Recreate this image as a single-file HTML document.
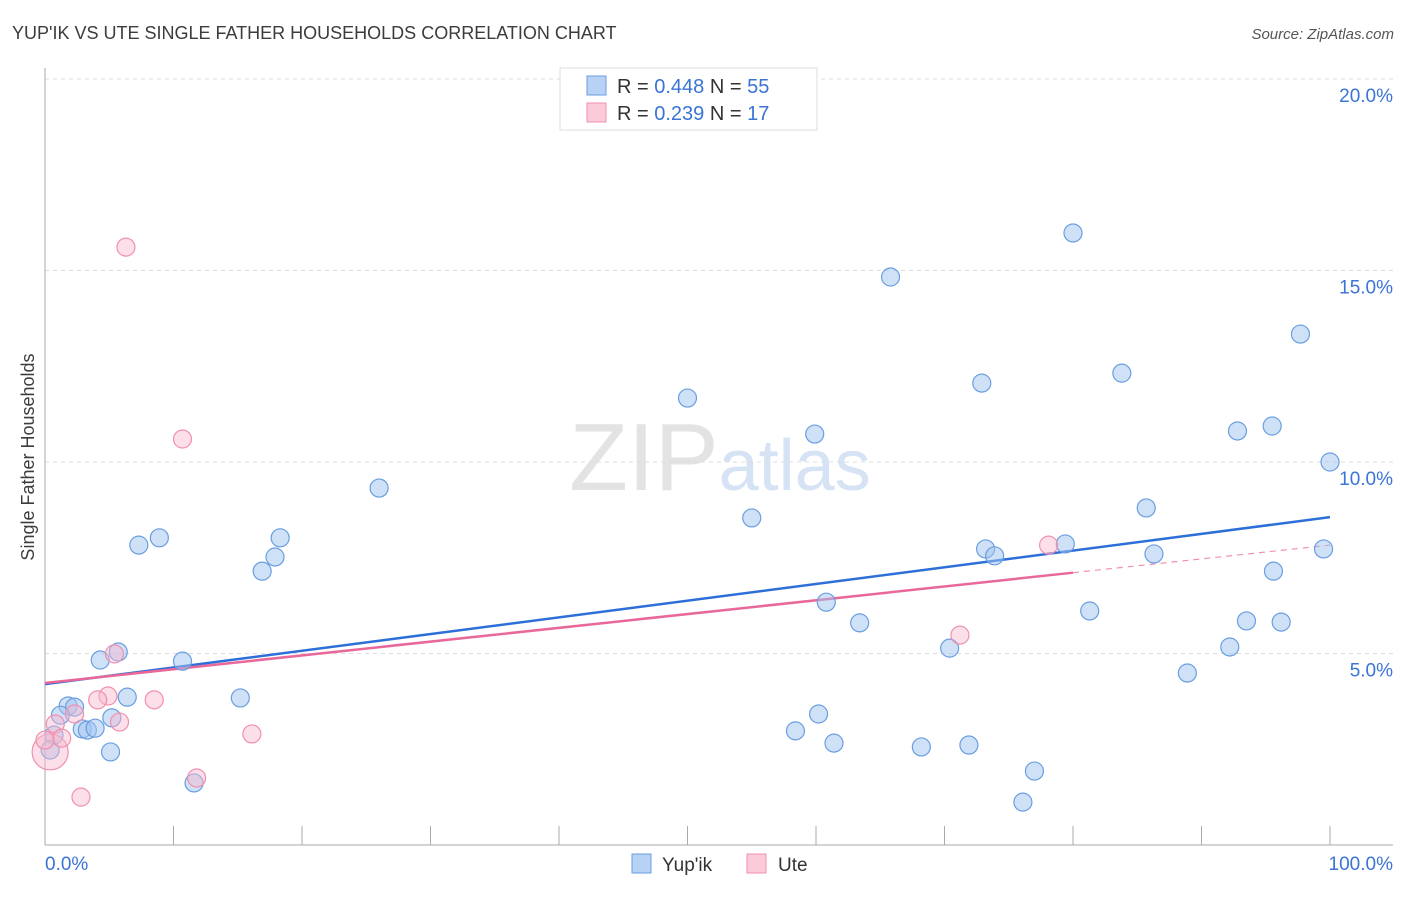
<!DOCTYPE html>
<html><head><meta charset="utf-8"><style>
body{margin:0;background:#fff;font-family:"Liberation Sans",sans-serif;}
svg text{font-family:"Liberation Sans",sans-serif;}
</style></head><body>
<svg id="chart" width="1406" height="892" viewBox="0 0 1406 892" xmlns="http://www.w3.org/2000/svg">
<text x="12" y="39" font-size="18" fill="#3c3c3c">YUP'IK VS UTE SINGLE FATHER HOUSEHOLDS CORRELATION CHART</text>
<text x="1394" y="39" font-size="15" fill="#555" font-style="italic" text-anchor="end">Source: ZipAtlas.com</text>
<text x="720" y="490" font-size="96" text-anchor="middle" fill="#e3e3e3" font-family="Liberation Serif">ZIP<tspan fill="#d6e3f5" font-family="Liberation Sans" font-size="72">atlas</tspan></text>
<g id="grid"></g>
<g id="axes"></g>
<text transform="translate(34,457) rotate(-90)" font-size="18" fill="#3c3c3c" text-anchor="middle">Single Father Households</text>
<g id="lines"></g>
<g id="points"></g>
<g>
<rect x="560" y="68" width="257" height="62" fill="#fff" stroke="#ddd"/>
<rect x="587" y="76" width="19" height="19" fill="#b8d2f5" stroke="#6a9ee0"/>
<text x="617" y="93" font-size="20" fill="#333">R = <tspan fill="#3a74d4">0.448</tspan>   N = <tspan fill="#3a74d4">55</tspan></text>
<rect x="587" y="103" width="19" height="19" fill="#fbcbd9" stroke="#f090b0"/>
<text x="617" y="120" font-size="20" fill="#333">R =  <tspan fill="#3a74d4">0.239</tspan>   N =  <tspan fill="#3a74d4">17</tspan></text>
</g>
<g>
<rect x="632" y="854" width="19" height="19" fill="#b8d2f5" stroke="#6a9ee0"/>
<text x="662" y="871" font-size="19" fill="#333">Yup'ik</text>
<rect x="747" y="854" width="19" height="19" fill="#fbcbd9" stroke="#f090b0"/>
<text x="778" y="871" font-size="19" fill="#333">Ute</text>
</g>
</svg>
<script>
const yTicks=[5,10,15,20];
const yTickLabels=["5.0%","10.0%","15.0%","20.0%"];
const xTickLabels=["0.0%","100.0%"];
const yupikX=[80.0,65.8,97.7,83.8,72.9,50.0,59.9,92.8,95.5,100,26.0,55.0,85.7,8.9,7.3,18.3,17.9,16.9,73.2,73.9,79.4,86.3,99.5,95.6,60.8,81.3,63.4,93.5,96.2,70.4,92.2,5.7,4.3,10.7,88.9,6.4,15.2,1.8,2.3,1.2,5.2,2.9,3.3,3.9,0.7,5.1,60.2,58.4,61.4,68.2,71.9,77.0,76.1,11.6,0.4];
const yupikY=[15.98,14.83,13.34,12.32,12.06,11.67,10.73,10.81,10.94,10.0,9.32,8.54,8.80,8.02,7.83,8.02,7.52,7.15,7.73,7.55,7.86,7.60,7.73,7.15,6.34,6.11,5.80,5.85,5.82,5.14,5.17,5.04,4.83,4.80,4.49,3.86,3.84,3.63,3.60,3.39,3.32,3.03,3.00,3.05,2.87,2.43,3.42,2.98,2.66,2.56,2.61,1.93,1.12,1.62,2.48];
const uteX=[0.4,6.3,10.7,78.1,71.2,5.4,4.9,4.1,8.5,2.3,0.8,5.8,1.3,16.1,11.8,2.8,0.0];
const uteY=[2.43,15.61,10.60,7.83,5.48,4.99,3.89,3.79,3.79,3.42,3.16,3.21,2.79,2.90,1.75,1.25,2.74];
const yupikTrend=[4.20,8.56];
const uteTrend=[4.23,7.83];
const uteSolidEnd=80;
const NS="http://www.w3.org/2000/svg";
const X=v=>45+v*12.85, Y=v=>845-v*38.3;
function mk(tag,attrs,parent){const e=document.createElementNS(NS,tag);for(const k in attrs)e.setAttribute(k,attrs[k]);parent.appendChild(e);return e;}
const grid=document.getElementById('grid'),axes=document.getElementById('axes'),lines=document.getElementById('lines'),pts=document.getElementById('points');
yTicks.forEach((t,i)=>{
 const l=mk('line',{x1:45,x2:1393,y1:Y(t),y2:Y(t),stroke:'#ddd','stroke-dasharray':'4,4'},grid);
 
 
 const tx=mk('text',{x:1393,y:Y(t)+23,'font-size':19,fill:'#3a74d4','text-anchor':'end'},grid);
 tx.textContent=yTickLabels[i];
 
 
});
const la=mk('line',{x1:45,x2:45,y1:68,y2:845,stroke:'#aaa'},axes);


const lb=mk('line',{x1:45,x2:1393,y1:845,y2:845,stroke:'#aaa'},axes);


for(let i=1;i<=10;i++){
 const t=mk('line',{x1:X(i*10),x2:X(i*10),y1:826,y2:845,stroke:'#aaa'},axes);
 
 
}
[[0,'start',45],[100,'end',1393]].forEach((d,i)=>{
 const t=mk('text',{x:d[2],y:870,'font-size':19,fill:'#3a74d4','text-anchor':d[1]},axes);
 t.textContent=xTickLabels[i];
 
 
});
const uteAt=x=>uteTrend[0]+(uteTrend[1]-uteTrend[0])*x/100;
const d1=mk('line',{x1:X(uteSolidEnd),y1:Y(uteAt(uteSolidEnd)),x2:X(100),y2:Y(uteTrend[1]),stroke:'#f090b0','stroke-width':1.2,'stroke-dasharray':'6,5'},lines);


const b1=mk('line',{x1:X(0),y1:Y(yupikTrend[0]),x2:X(100),y2:Y(yupikTrend[1]),stroke:'#2d6fd8','stroke-width':2.5},lines);


const p1=mk('line',{x1:X(0),y1:Y(uteTrend[0]),x2:X(uteSolidEnd),y2:Y(uteAt(uteSolidEnd)),stroke:'#e8689a','stroke-width':2.5},lines);


yupikX.forEach((x,i)=>{
 const c=mk('circle',{cx:X(x),cy:Y(yupikY[i]),r:i===54?9:9,fill:'rgba(160,196,240,0.5)',stroke:'#6a9ee0','stroke-width':1.2},pts);
 
 
});
uteX.forEach((x,i)=>{
 const c=mk('circle',{cx:X(x),cy:Y(uteY[i]),r:i===0?18:9,fill:'rgba(248,185,205,0.45)',stroke:'#f090b0','stroke-width':1.2},pts);
 
 
});
</script>
</body></html>
